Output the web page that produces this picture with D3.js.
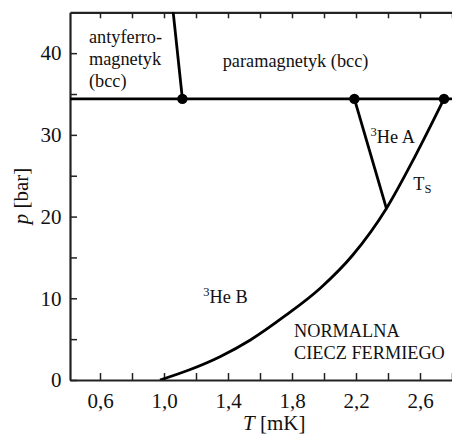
<!DOCTYPE html>
<html>
<head>
<meta charset="utf-8">
<script src="https://cdn.jsdelivr.net/npm/d3@7"></script>
<style>
  body { margin: 0; background: #fff; }
  svg { display: block; font-family: "Liberation Serif", "Times New Roman", serif; }
  .axis path, .axis line { stroke: #222; }
  .axis path { stroke-width: 2.2; }
  .axis line { stroke-width: 1.5; }
  .axis text { font-size: 21px; fill: #111; font-family: "Liberation Serif", serif; }
  .lbl { font-size: 18.3px; fill: #111; }
</style>
</head>
<body>
<svg id="chart"></svg>
<script>
// phase diagram of 3He
var xTicks = [0.6, 0.8, 1.0, 1.2, 1.4, 1.6, 1.8, 2.0, 2.2, 2.4, 2.6, 2.8];
var xLabels = {"0.6": "0,6", "1": "1,0", "1.4": "1,4", "1.8": "1,8", "2.2": "2,2", "2.6": "2,6"};
var yTicks = [0, 5, 10, 15, 20, 25, 30, 35, 40];
var yLabels = {"0": "0", "10": "10", "20": "20", "30": "30", "40": "40"};

// solid / liquid boundary (flat)
var solidT = [0.3, 2.9];
var solidP = [34.4, 34.4];
// antiferro / para boundary
var afmT = [1.115, 1.052];
var afmP = [34.4, 46];
// A / B boundary
var abT = [2.19, 2.39];
var abP = [34.4, 21.0];
// Ts line (superfluid transition)
var tsT = [0.975, 1.16, 1.35, 1.54, 1.76, 1.98, 2.18, 2.39, 2.57, 2.75];
var tsP = [0, 1.25, 2.85, 4.9, 7.9, 11.3, 15.3, 21.0, 27.4, 34.4];
// triple points
var ptT = [1.115, 2.19, 2.75];
var ptP = [34.4, 34.4, 34.4];

var width = 452, height = 436;
var mLeft = 70, mRight = 452, mTop = 12.3, mBottom = 380;

var svg = d3.select("#chart").attr("width", width).attr("height", height);

var x = d3.scaleLinear().domain([0.4125, 2.8]).range([mLeft, mRight]);
var y = d3.scaleLinear().domain([0, 45]).range([mBottom, mTop]);

svg.append("defs").append("clipPath").attr("id", "clip")
  .append("rect").attr("x", mLeft).attr("y", mTop).attr("width", mRight - mLeft).attr("height", mBottom - mTop);

// axes
svg.append("g").attr("class", "axis")
  .attr("transform", "translate(0," + mBottom + ")")
  .call(d3.axisBottom(x).tickValues(xTicks).tickSizeInner(-7).tickSizeOuter(0).tickPadding(13)
    .tickFormat(function(d) { return xLabels[String(d)] || ""; }));

svg.append("g").attr("class", "axis")
  .attr("transform", "translate(0," + mTop + ")")
  .call(d3.axisTop(x).tickValues(xTicks).tickSizeInner(-6).tickSizeOuter(0).tickFormat(""));

svg.append("g").attr("class", "axis")
  .attr("transform", "translate(" + mLeft + ",0)")
  .call(d3.axisLeft(y).tickValues(yTicks).tickSizeInner(-7).tickSizeOuter(0).tickPadding(8.5)
    .tickFormat(function(d) { return yLabels[String(d)] || ""; }));

// lines
var plot = svg.append("g").attr("clip-path", "url(#clip)");

function drawLine(ts, ps, curve) {
  var pts = ts.map(function(t, i) { return [t, ps[i]]; });
  plot.append("path")
    .datum(pts)
    .attr("fill", "none")
    .attr("stroke", "#000")
    .attr("stroke-width", 2.8)
    .attr("d", d3.line()
      .x(function(d) { return x(d[0]); })
      .y(function(d) { return y(d[1]); })
      .curve(curve || d3.curveLinear));
}

drawLine(solidT, solidP);
drawLine(afmT, afmP);
drawLine(abT, abP);
drawLine(tsT, tsP, d3.curveMonotoneX);

svg.selectAll("circle.pt")
  .data(ptT)
  .enter()
  .append("circle")
  .attr("class", "pt")
  .attr("cx", function(d) { return x(d); })
  .attr("cy", function(d, i) { return y(ptP[i]); })
  .attr("r", 5.2)
  .attr("fill", "#000");

// region labels
var afm = svg.append("text").attr("class", "lbl").attr("x", x(0.531)).attr("y", 43);
afm.append("tspan").attr("x", x(0.531)).text("antyferro-");
afm.append("tspan").attr("x", x(0.531)).attr("dy", 22).text("magnetyk");
afm.append("tspan").attr("x", x(0.531)).attr("dy", 22).text("(bcc)");

svg.append("text").attr("class", "lbl").attr("x", x(1.367)).attr("y", y(38.3))
  .text("paramagnetyk (bcc)");

function heLabel(tx, py, phase) {
  var t = svg.append("text").attr("class", "lbl").attr("x", x(tx)).attr("y", y(py));
  t.append("tspan").attr("font-size", "12.5px").attr("dy", -7).text("3");
  t.append("tspan").attr("dy", 7).text("He " + phase);
}
heLabel(2.291, 28.95, "A");
heLabel(1.246, 9.38, "B");

var ts = svg.append("text").attr("class", "lbl").attr("x", x(2.558)).attr("y", y(23.24));
ts.append("tspan").text("T");
ts.append("tspan").attr("font-size", "12.5px").attr("dy", 3).text("S");

var nl = svg.append("text").attr("class", "lbl").attr("x", x(1.8125)).attr("y", y(5.22));
nl.append("tspan").attr("x", x(1.8125)).text("NORMALNA");
nl.append("tspan").attr("x", x(1.8125)).attr("dy", 22).text("CIECZ FERMIEGO");

// axis titles
var xt = svg.append("text").attr("x", 243).attr("y", 430).attr("font-size", "21px").attr("fill", "#111");
xt.append("tspan").attr("font-style", "italic").text("T");
xt.append("tspan").text(" [mK]");

var yt = svg.append("text")
  .attr("transform", "translate(28,196) rotate(-90)")
  .attr("text-anchor", "middle")
  .attr("font-size", "21px")
  .attr("fill", "#111");
yt.append("tspan").attr("font-style", "italic").text("p");
yt.append("tspan").text(" [bar]");
</script>
</body>
</html>
